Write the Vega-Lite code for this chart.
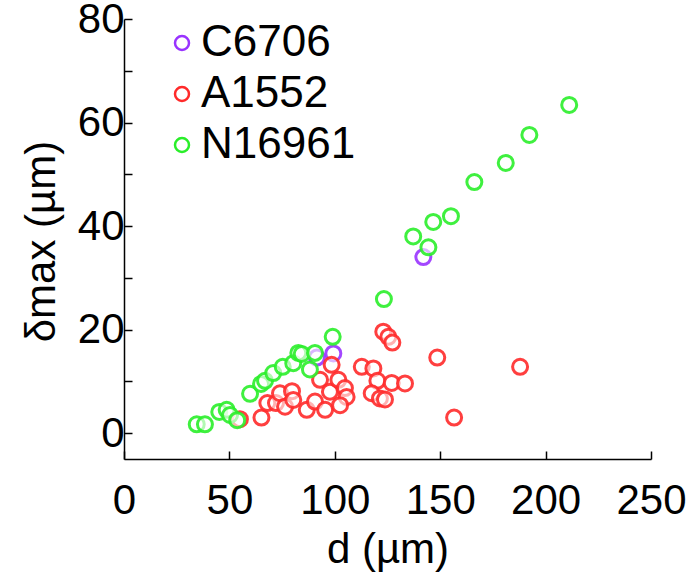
{
  "$schema": "https://vega.github.io/schema/vega-lite/v6.json",
  "width": 527,
  "height": 440,
  "autosize": "none",
  "padding": {"left": 124, "top": 19, "right": 43, "bottom": 121},
  "background": "white",
  "config": {
    "font": "Liberation Sans",
    "view": {"stroke": null},
    "axis": {"grid": false, "domainColor": "black", "tickColor": "black", "labelColor": "black", "titleColor": "black", "domainWidth": 1.5, "tickWidth": 1.5, "labelFont": "Liberation Sans", "titleFont": "Liberation Sans", "titleFontWeight": "normal"},
    "legend": {"labelFont": "Liberation Sans"}
  },
  "data": {
    "values": [
      {"strain": "C6706", "d": 99.3, "dmax": 15.4},
      {"strain": "C6706", "d": 91.5, "dmax": 14.6},
      {"strain": "C6706", "d": 142.0, "dmax": 34.0},
      {"strain": "A1552", "d": 55.0, "dmax": 2.7},
      {"strain": "A1552", "d": 65.2, "dmax": 3.0},
      {"strain": "A1552", "d": 68.0, "dmax": 5.8},
      {"strain": "A1552", "d": 72.1, "dmax": 5.8},
      {"strain": "A1552", "d": 74.0, "dmax": 7.7},
      {"strain": "A1552", "d": 76.4, "dmax": 5.1},
      {"strain": "A1552", "d": 79.7, "dmax": 8.1},
      {"strain": "A1552", "d": 80.3, "dmax": 6.4},
      {"strain": "A1552", "d": 86.7, "dmax": 4.5},
      {"strain": "A1552", "d": 90.6, "dmax": 6.1},
      {"strain": "A1552", "d": 95.4, "dmax": 4.5},
      {"strain": "A1552", "d": 93.0, "dmax": 10.3},
      {"strain": "A1552", "d": 97.7, "dmax": 8.0},
      {"strain": "A1552", "d": 98.5, "dmax": 13.2},
      {"strain": "A1552", "d": 101.7, "dmax": 10.3},
      {"strain": "A1552", "d": 104.8, "dmax": 8.7},
      {"strain": "A1552", "d": 105.6, "dmax": 7.0},
      {"strain": "A1552", "d": 102.5, "dmax": 5.4},
      {"strain": "A1552", "d": 112.8, "dmax": 12.8},
      {"strain": "A1552", "d": 118.3, "dmax": 12.5},
      {"strain": "A1552", "d": 120.2, "dmax": 10.1},
      {"strain": "A1552", "d": 127.0, "dmax": 9.7},
      {"strain": "A1552", "d": 133.3, "dmax": 9.6},
      {"strain": "A1552", "d": 117.5, "dmax": 7.7},
      {"strain": "A1552", "d": 121.4, "dmax": 6.7},
      {"strain": "A1552", "d": 123.8, "dmax": 6.5},
      {"strain": "A1552", "d": 123.0, "dmax": 19.6},
      {"strain": "A1552", "d": 125.4, "dmax": 18.6},
      {"strain": "A1552", "d": 127.3, "dmax": 17.5},
      {"strain": "A1552", "d": 148.6, "dmax": 14.6},
      {"strain": "A1552", "d": 156.6, "dmax": 3.0},
      {"strain": "A1552", "d": 187.9, "dmax": 12.8},
      {"strain": "N16961", "d": 34.5, "dmax": 1.7},
      {"strain": "N16961", "d": 38.4, "dmax": 1.7},
      {"strain": "N16961", "d": 45.2, "dmax": 4.1},
      {"strain": "N16961", "d": 48.7, "dmax": 4.5},
      {"strain": "N16961", "d": 50.3, "dmax": 3.5},
      {"strain": "N16961", "d": 53.7, "dmax": 2.5},
      {"strain": "N16961", "d": 59.8, "dmax": 7.6},
      {"strain": "N16961", "d": 65.0, "dmax": 9.5},
      {"strain": "N16961", "d": 66.9, "dmax": 10.1},
      {"strain": "N16961", "d": 70.8, "dmax": 11.6},
      {"strain": "N16961", "d": 75.3, "dmax": 12.8},
      {"strain": "N16961", "d": 80.3, "dmax": 13.5},
      {"strain": "N16961", "d": 82.7, "dmax": 15.5},
      {"strain": "N16961", "d": 84.3, "dmax": 15.3},
      {"strain": "N16961", "d": 88.2, "dmax": 12.3},
      {"strain": "N16961", "d": 90.6, "dmax": 15.5},
      {"strain": "N16961", "d": 99.0, "dmax": 18.6},
      {"strain": "N16961", "d": 123.3, "dmax": 25.9},
      {"strain": "N16961", "d": 137.2, "dmax": 38.0},
      {"strain": "N16961", "d": 144.4, "dmax": 35.9},
      {"strain": "N16961", "d": 146.7, "dmax": 40.8},
      {"strain": "N16961", "d": 155.1, "dmax": 41.9},
      {"strain": "N16961", "d": 166.2, "dmax": 48.5},
      {"strain": "N16961", "d": 181.1, "dmax": 52.2},
      {"strain": "N16961", "d": 192.3, "dmax": 57.6},
      {"strain": "N16961", "d": 211.2, "dmax": 63.4}
    ]
  },
  "mark": {"type": "point", "shape": "circle", "filled": false, "fill": "white", "fillOpacity": 0.6, "size": 225, "strokeWidth": 3, "strokeOpacity": 0.9},
  "encoding": {
    "x": {
      "field": "d", "type": "quantitative",
      "scale": {"domain": [0, 250], "nice": false, "zero": false},
      "axis": {
        "title": "d (µm)", "values": [0, 50, 100, 150, 200, 250],
        "tickSize": -8, "labelPadding": 29, "labelFontSize": 42, "titleFontSize": 42,
        "labelFlush": false, "labelOverlap": false,
        "titleX": 263.5, "titleY": 103, "titleBaseline": "alphabetic", "titleAnchor": "middle"
      }
    },
    "y": {
      "field": "dmax", "type": "quantitative",
      "scale": {"domain": [-5, 80], "nice": false, "zero": false},
      "axis": {
        "title": "δmax (µm)", "values": [0, 10, 20, 30, 40, 50, 60, 70, 80],
        "labelExpr": "datum.value % 20 === 0 ? datum.label : ''",
        "tickSize": -8, "labelPadding": 8, "labelFontSize": 42, "titleFontSize": 42,
        "labelFlush": false, "labelOverlap": false,
        "titleX": -70, "titleY": 222, "titleBaseline": "alphabetic", "titleAnchor": "middle", "titleAngle": -90
      }
    },
    "color": {
      "field": "strain", "type": "nominal",
      "scale": {"domain": ["C6706", "A1552", "N16961"], "range": ["#9933ff", "#ff2a2a", "#2aee2a"]},
      "legend": {
        "title": null, "orient": "none", "legendX": 36, "legendY": 2,
        "labelFontSize": 44, "symbolSize": 196, "symbolStrokeWidth": 2.5, "symbolType": "circle",
        "labelOffset": -3, "rowPadding": 7, "padding": 0
      }
    }
  }
}
